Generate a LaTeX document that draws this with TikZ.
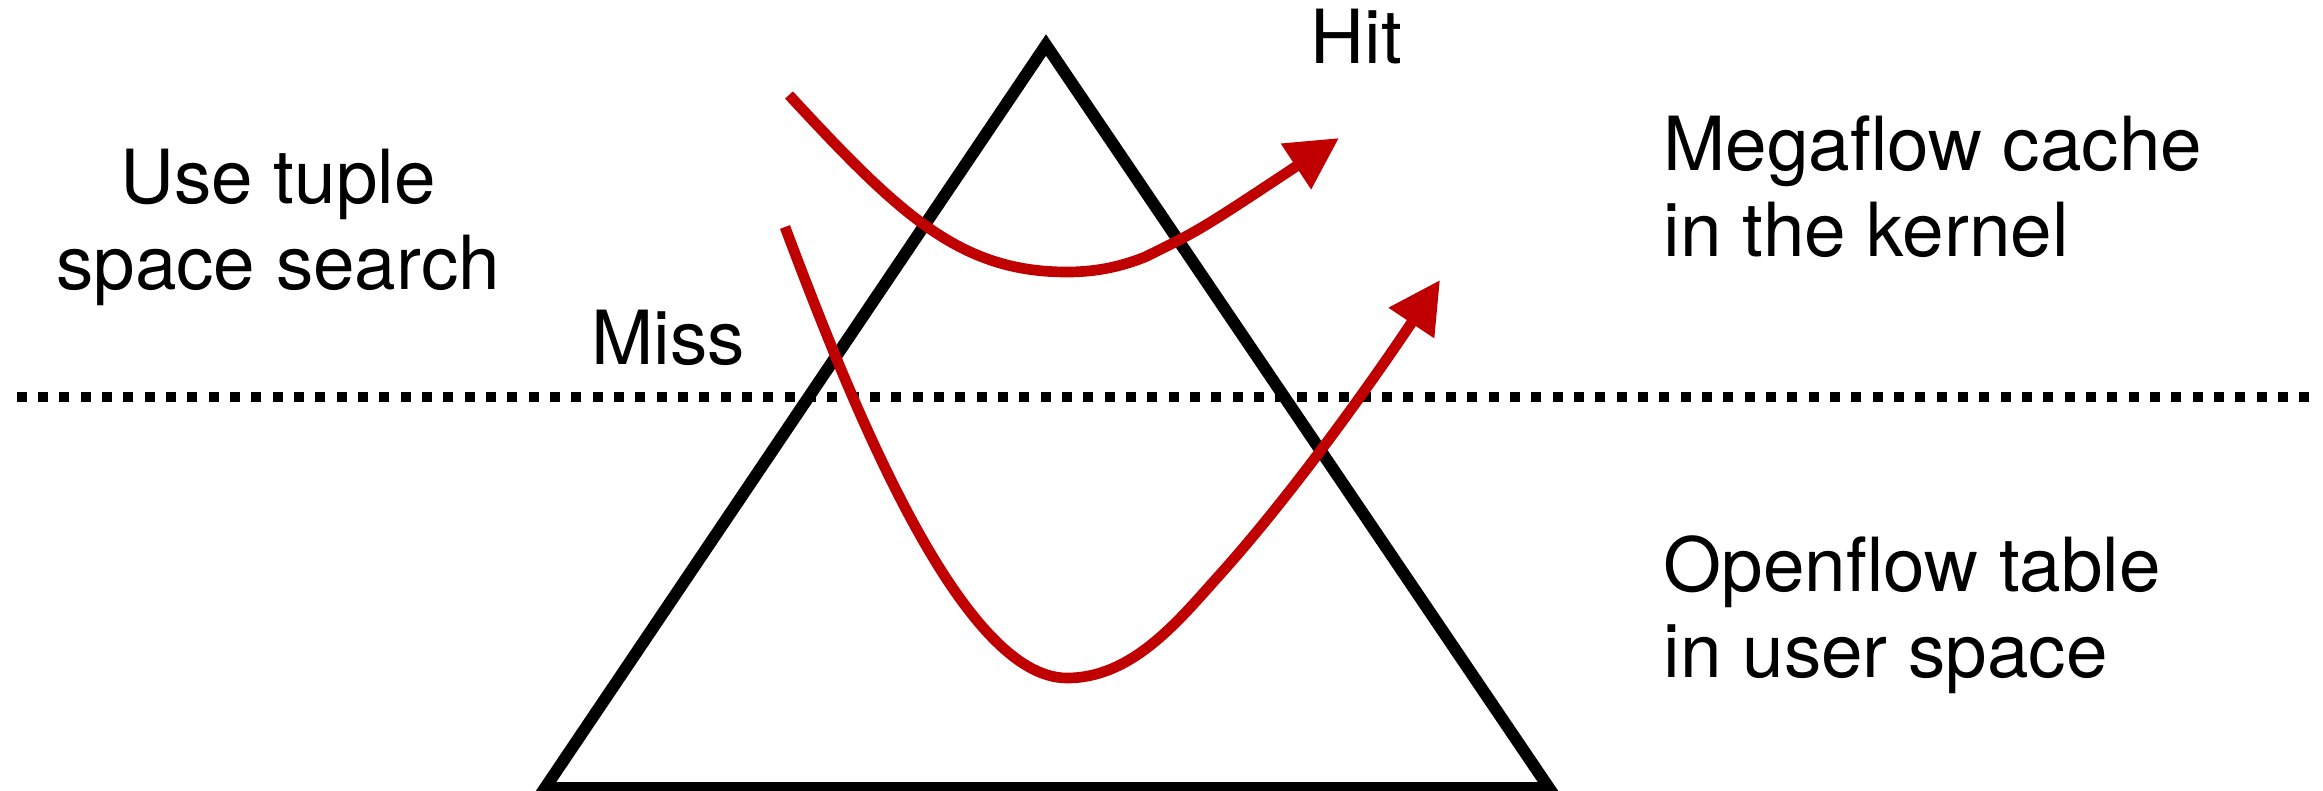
\documentclass[tikz,border=0pt]{standalone}
\usepackage{fontspec}
\setmainfont{TeX Gyre Heros}
\usetikzlibrary{arrows.meta}
\definecolor{flowred}{RGB}{192,0,0}
\begin{document}
\begin{tikzpicture}[x=0.3pt,y=-0.3pt,
  lbl/.style={inner sep=0pt, font=\fontsize{22.4}{25.8}\selectfont},
  tri/.style={line width=3.6pt, line join=miter, draw=black},
  sepline/.style={line width=3pt, dash pattern=on 3pt off 3.4pt},
  flow/.style={line width=3.2pt, draw=flowred, -{Triangle[length=15.5pt,width=15.6pt,fill=flowred]}}]
\useasboundingbox (0,0) rectangle (2323,790);
% separator
\coordinate (sl) at (16.7,397);
\coordinate (sr) at (2309,397);
\draw[sepline] (sl) -- (sr);
% triangle
\coordinate (ta) at (1046,45);
\coordinate (tl) at (545,788);
\coordinate (tr) at (1549,788);
\draw[tri] (ta) -- (tl) -- (tr) -- cycle;
% labels
\node[lbl, anchor=base west] (hit) at (1310,63) {Hit};
\node[lbl, anchor=base west] (miss) at (591,364) {Miss};
\node[lbl, anchor=base, align=center] (tss) at (278,289) {Use tuple\\space search};
\node[lbl, anchor=base west, align=left] (mega) at (1663,256) {Megaflow cache\\in the kernel};
\node[lbl, anchor=base west, align=left] (ofl) at (1663,677) {Openflow table\\in user space};
% flows
\coordinate (h0) at (789,95);
\coordinate (h1) at (1339,138);
\draw[flow] (h0) .. controls (900,215) and (960,272) .. (1067,272)
  .. controls (1100,272) and (1125,265) .. (1145,257)
  .. controls (1200,230) .. (h1);
\coordinate (m0) at (785,227);
\coordinate (m1) at (1440,280);
\draw[flow] (m0) .. controls (850,400) and (960,678) .. (1067,678)
  .. controls (1130,678) and (1175,625) .. (1215,580)
  .. controls (1295,492) and (1380,370) .. (m1);
\end{tikzpicture}
\end{document}
